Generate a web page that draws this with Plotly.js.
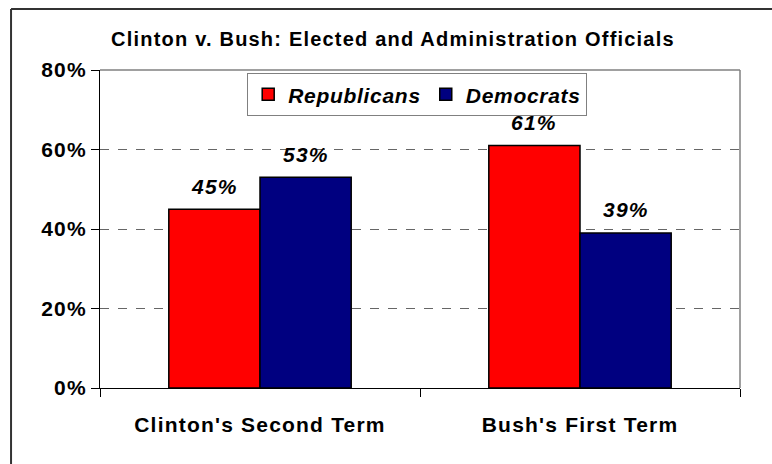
<!DOCTYPE html>
<html>
<head>
<meta charset="utf-8">
<script src="https://cdn.plot.ly/plotly-3.0.1.min.js"></script>
<style>
html,body{margin:0;padding:0;background:#fff;}
#chart{width:772px;height:464px;}
text{letter-spacing:1.2px;}
text.legendtext{letter-spacing:0.7px;}
</style>
</head>
<body>
<div id="chart"></div>
<script>
const categories = ["Clinton's Second Term", "Bush's First Term"];
const republicans = [45, 61];
const democrats = [53, 39];
const yTickVals = [0, 20, 40, 60, 80];
const yTickText = ["0%", "20%", "40%", "60%", "80%"];
const chartTitle = "Clinton v. Bush: Elected and Administration Officials";

const FONT = "Arial, 'Liberation Sans', sans-serif";
const labelFont = {family: FONT, size: 21, color: "#000", weight: "bold", style: "italic"};
const BARGAP = 0.43;

function series(name, vals, color) {
  return {
    type: "bar", name: name, x: categories, y: vals,
    marker: {color: color, line: {color: "#000", width: 1.5}},
    hoverinfo: "skip"
  };
}

const data = [series("Republicans", republicans, "#ff0000"), series("Democrats", democrats, "#000080")];

// value labels above each bar (positions from the data through the axis scales)
const off = (1 - BARGAP) / 4;
const annotations = [];
[republicans, democrats].forEach((vals, s) => {
  vals.forEach((v, i) => {
    annotations.push({
      xref: "x", yref: "y", x: i + (s === 0 ? -off : off), y: v,
      text: v + "%", showarrow: false, xanchor: "center", yanchor: "middle",
      yshift: 23, font: labelFont
    });
  });
});

const layout = {
  width: 772, height: 464,
  margin: {l: 100, r: 32, t: 70, b: 76},
  paper_bgcolor: "#fff", plot_bgcolor: "#fff",
  font: {family: FONT, color: "#000"},
  title: {text: chartTitle, font: {family: FONT, size: 20, weight: "bold", color: "#000"}, x: 0.509, xanchor: "center", y: 0.915, yanchor: "middle"},
  barmode: "group", bargap: BARGAP, bargroupgap: 0,
  showlegend: true,
  legend: {orientation: "h", x: 0.23, y: 0.99, xanchor: "left", yanchor: "top",
           bordercolor: "#808080", borderwidth: 1, bgcolor: "#fff",
           font: labelFont, traceorder: "normal"},
  xaxis: {type: "category", range: [-0.5, 1.5], showline: true, linecolor: "#000", linewidth: 1,
          ticks: "outside", tickson: "boundaries", ticklen: 8, tickcolor: "#000", ticklabelstandoff: 18,
          tickfont: {family: FONT, size: 21, weight: "bold", color: "#000"}, showgrid: false, fixedrange: true},
  yaxis: {range: [0, 80], tickvals: yTickVals, ticktext: yTickText, showline: true, linecolor: "#000", linewidth: 1,
          ticks: "outside", ticklen: 8, tickcolor: "#000",
          tickfont: {family: FONT, size: 21, weight: "bold", color: "#000"},
          showgrid: true, gridcolor: "#666", griddash: "dash", gridwidth: 1, zeroline: false, fixedrange: true},
  annotations: annotations,
  shapes: [
    {type: "line", xref: "paper", yref: "paper", x0: 0, x1: 1, y0: 1, y1: 1, line: {color: "#808080", width: 1.5}},
    {type: "line", xref: "paper", yref: "paper", x0: 1, x1: 1, y0: 0, y1: 1, line: {color: "#808080", width: 1.5}},
    {type: "line", xref: "paper", yref: "paper", x0: -0.139, x1: 1.2, y0: 1.192, y1: 1.192, line: {color: "#333", width: 2}},
    {type: "line", xref: "paper", yref: "paper", x0: -0.139, x1: -0.139, y0: -0.5, y1: 1.192, line: {color: "#333", width: 2}}
  ]
};

Plotly.newPlot("chart", data, layout, {displayModeBar: false, staticPlot: true});
</script>
</body>
</html>
